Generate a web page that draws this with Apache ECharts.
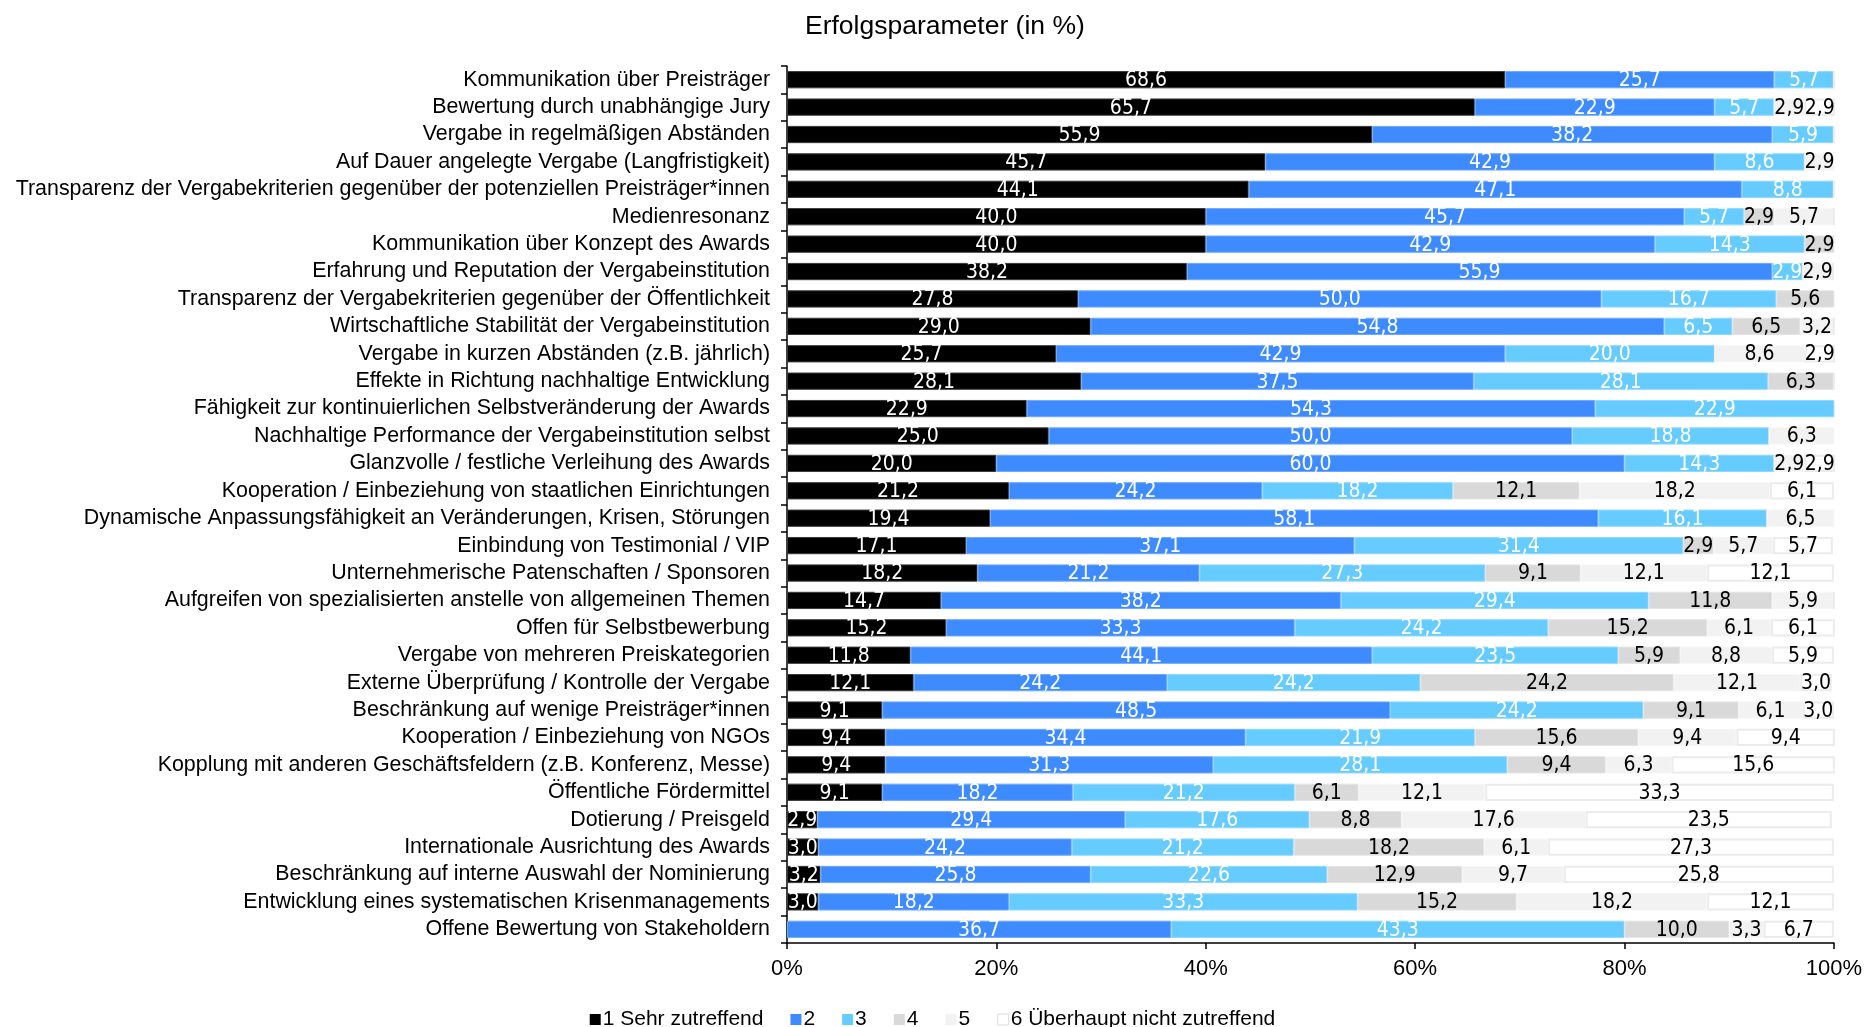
<!DOCTYPE html>
<html>
<head>
<meta charset="utf-8">
<script src="https://cdn.jsdelivr.net/npm/echarts@6/dist/echarts.min.js"></script>
<style>
html,body{margin:0;padding:0;background:#fff;}
#chart{width:1865px;height:1027px;}
</style>
</head>
<body>
<div id="chart"></div>
<script>
const categories = [
  "Kommunikation über Preisträger",
  "Bewertung durch unabhängige Jury",
  "Vergabe in regelmäßigen Abständen",
  "Auf Dauer angelegte Vergabe (Langfristigkeit)",
  "Transparenz der Vergabekriterien gegenüber der potenziellen Preisträger*innen",
  "Medienresonanz",
  "Kommunikation über Konzept des Awards",
  "Erfahrung und Reputation der Vergabeinstitution",
  "Transparenz der Vergabekriterien gegenüber der Öffentlichkeit",
  "Wirtschaftliche Stabilität der Vergabeinstitution",
  "Vergabe in kurzen Abständen (z.B. jährlich)",
  "Effekte in Richtung nachhaltige Entwicklung",
  "Fähigkeit zur kontinuierlichen Selbstveränderung der Awards",
  "Nachhaltige Performance der Vergabeinstitution selbst",
  "Glanzvolle / festliche Verleihung des Awards",
  "Kooperation / Einbeziehung von staatlichen Einrichtungen",
  "Dynamische Anpassungsfähigkeit an Veränderungen, Krisen, Störungen",
  "Einbindung von Testimonial / VIP",
  "Unternehmerische Patenschaften / Sponsoren",
  "Aufgreifen von spezialisierten anstelle von allgemeinen Themen",
  "Offen für Selbstbewerbung",
  "Vergabe von mehreren Preiskategorien",
  "Externe Überprüfung / Kontrolle der Vergabe",
  "Beschränkung auf wenige Preisträger*innen",
  "Kooperation / Einbeziehung von NGOs",
  "Kopplung mit anderen Geschäftsfeldern (z.B. Konferenz, Messe)",
  "Öffentliche Fördermittel",
  "Dotierung / Preisgeld",
  "Internationale Ausrichtung des Awards",
  "Beschränkung auf interne Auswahl der Nominierung",
  "Entwicklung eines systematischen Krisenmanagements",
  "Offene Bewertung von Stakeholdern"
];

const seriesNames = ["1 Sehr zutreffend", "2", "3", "4", "5", "6 Überhaupt nicht zutreffend"];

const s1 = [68.6, 65.7, 55.9, 45.7, 44.1, 40.0, 40.0, 38.2, 27.8, 29.0, 25.7, 28.1, 22.9, 25.0, 20.0, 21.2, 19.4, 17.1, 18.2, 14.7, 15.2, 11.8, 12.1, 9.1, 9.4, 9.4, 9.1, 2.9, 3.0, 3.2, 3.0, 0];
const s2 = [25.7, 22.9, 38.2, 42.9, 47.1, 45.7, 42.9, 55.9, 50.0, 54.8, 42.9, 37.5, 54.3, 50.0, 60.0, 24.2, 58.1, 37.1, 21.2, 38.2, 33.3, 44.1, 24.2, 48.5, 34.4, 31.3, 18.2, 29.4, 24.2, 25.8, 18.2, 36.7];
const s3 = [5.7, 5.7, 5.9, 8.6, 8.8, 5.7, 14.3, 2.9, 16.7, 6.5, 20.0, 28.1, 22.9, 18.8, 14.3, 18.2, 16.1, 31.4, 27.3, 29.4, 24.2, 23.5, 24.2, 24.2, 21.9, 28.1, 21.2, 17.6, 21.2, 22.6, 33.3, 43.3];
const s4 = [0, 0, 0, 0, 0, 2.9, 2.9, 0, 5.6, 6.5, 0, 6.3, 0, 0, 0, 12.1, 0, 2.9, 9.1, 11.8, 15.2, 5.9, 24.2, 9.1, 15.6, 9.4, 6.1, 8.8, 18.2, 12.9, 15.2, 10.0];
const s5 = [0, 2.9, 0, 2.9, 0, 5.7, 0, 2.9, 0, 3.2, 8.6, 0, 0, 6.3, 2.9, 18.2, 6.5, 5.7, 12.1, 5.9, 6.1, 8.8, 12.1, 6.1, 9.4, 6.3, 12.1, 17.6, 6.1, 9.7, 18.2, 3.3];
const s6 = [0, 2.9, 0, 0, 0, 0, 0, 0, 0, 0, 2.9, 0, 0, 0, 2.9, 6.1, 0, 5.7, 12.1, 0, 6.1, 5.9, 3.0, 3.0, 9.4, 15.6, 33.3, 23.5, 27.3, 25.8, 12.1, 6.7];

const xTickLabels = ["0%", "20%", "40%", "60%", "80%", "100%"];

const colors = ["#000000", "#3D8BFF", "#66CCFF", "#D9D9D9", "#F2F2F2", "#FFFFFF"];
const labelColors = ["#ffffff", "#ffffff", "#ffffff", "#000000", "#000000", "#000000"];
const borderColors = ["#3a3a3a", "#6fa8ff", "#8fd8ff", "#e4e4e4", "#f6f6f6", "#ececec"];
const allData = [s1, s2, s3, s4, s5, s6];

const narrow = '"DejaVu Sans Condensed", "Liberation Sans Narrow", "Arial Narrow", sans-serif';
const regular = '"Liberation Sans", Arial, Helvetica, sans-serif';

const series = allData.map((d, i) => ({
  name: seriesNames[i],
  type: 'bar',
  stack: 'total',
  barWidth: '63%',
  data: d,
  itemStyle: {
    color: colors[i],
    borderColor: borderColors[i],
    borderWidth: i === 5 ? 2 : 1
  },
  label: {
    show: true,
    position: 'inside',
    offset: [0, 1],
    color: labelColors[i],
    fontFamily: narrow,
    fontSize: 21,
    formatter: p => p.value > 0 ? p.value.toFixed(1).replace('.', ',') : ''
  },
  emphasis: { disabled: true }
}));

const chart = echarts.init(document.getElementById('chart'), null, { renderer: 'canvas' });
chart.setOption({
  animation: false,
  backgroundColor: '#ffffff',
  title: {
    text: 'Erfolgsparameter (in %)',
    left: 800,
    top: 8,
    textStyle: { fontFamily: regular, fontSize: 26.5, fontWeight: 'normal', color: '#000' }
  },
  legend: {
    top: 1004,
    left: 'center',
    itemWidth: 11,
    itemHeight: 11,
    itemGap: 27,
    icon: 'rect',
    textStyle: { fontFamily: regular, fontSize: 21, color: '#000', padding: [0, 0, 0, -3] },
    data: seriesNames.map((n, i) => ({
      name: n,
      itemStyle: i === 5 ? { color: '#fff', borderColor: '#dddddd', borderWidth: 1 } : { borderWidth: 0 }
    }))
  },
  grid: { left: 787, right: 30, top: 66, bottom: 84, containLabel: false },
  xAxis: {
    type: 'value',
    min: 0,
    max: 100,
    interval: 20,
    axisLine: { show: true, lineStyle: { color: '#000', width: 1.5 } },
    axisTick: { show: true, length: 6, lineStyle: { color: '#000', width: 1.5 } },
    splitLine: { show: false },
    axisLabel: {
      fontFamily: regular, fontSize: 22, color: '#000', margin: 15,
      formatter: v => xTickLabels[Math.round(v / 20)]
    }
  },
  yAxis: {
    type: 'category',
    inverse: true,
    data: categories,
    axisLine: { show: true, lineStyle: { color: '#000', width: 1.5 } },
    axisTick: { show: true, length: 6, lineStyle: { color: '#000', width: 1.5 } },
    axisLabel: { fontFamily: regular, fontSize: 21.4, color: '#000', margin: 17, interval: 0 }
  },
  series: series
});
</script>
</body>
</html>
